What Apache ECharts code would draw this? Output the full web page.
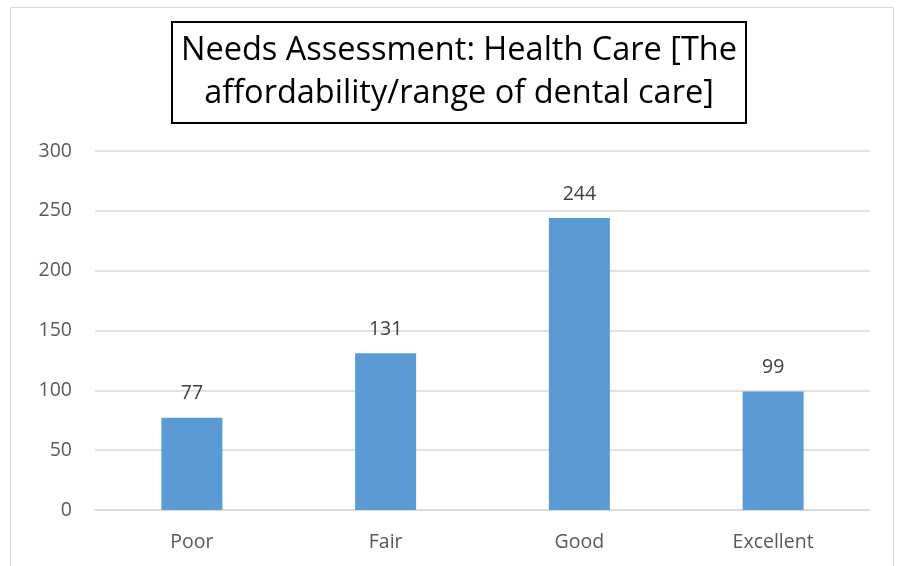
<!DOCTYPE html>
<html><head><meta charset="utf-8">
<script src="https://cdn.jsdelivr.net/npm/echarts@6/dist/echarts.min.js"></script>
<style>html,body{margin:0;padding:0;background:#fff}#c{width:903px;height:566px}</style>
</head><body><div id="c"></div>
<script>
const categories = ['Poor', 'Fair', 'Good', 'Excellent'];
const values = [77, 131, 244, 99];
const yTicks = [0, 50, 100, 150, 200, 250, 300];
const titleText = 'Needs Assessment: Health Care [The\naffordability/range of dental care]';

const chart = echarts.init(document.getElementById('c'));
const font = '"Open Sans", "Noto Sans", sans-serif';
chart.setOption({
  animation: false,
  backgroundColor: '#fff',
  graphic: [{
    type: 'rect', left: 10, top: 7, z: -1,
    shape: { width: 883, height: 570 },
    style: { fill: '#fff', stroke: '#d9d9d9', lineWidth: 1 }
  }, {
    type: 'rect', z: 10,
    shape: { x: 172, y: 22, width: 574, height: 101 },
    style: { fill: '#fff', stroke: '#000', lineWidth: 2 }
  }, {
    type: 'text', z: 11, x: 459, y: 72.5,
    style: {
      text: titleText, fill: '#000', align: 'center', verticalAlign: 'middle',
      font: '32.5px "Open Sans", "Noto Sans", sans-serif', lineHeight: 43
    }
  }],
  grid: { left: 95, right: 33, top: 151, bottom: 56, containLabel: false },
  xAxis: {
    type: 'category', data: categories,
    axisLine: { lineStyle: { color: '#d9d9d9', width: 1.5 } },
    axisTick: { show: false },
    axisLabel: { color: '#595959', fontSize: 19.5, fontFamily: font, margin: 22 }
  },
  yAxis: {
    type: 'value', min: yTicks[0], max: yTicks[yTicks.length - 1], interval: 50,
    axisLine: { show: false }, axisTick: { show: false },
    splitLine: { lineStyle: { color: '#d9d9d9', width: 1.5 } },
    axisLabel: { color: '#595959', fontSize: 19.5, fontFamily: font, margin: 23 }
  },
  series: [{
    type: 'bar', data: values, barWidth: '31.5%',
    itemStyle: { color: '#5b9bd5' },
    label: { show: true, position: 'top', distance: 14, color: '#404040', fontSize: 19.5, fontFamily: font }
  }]
});
</script></body></html>
